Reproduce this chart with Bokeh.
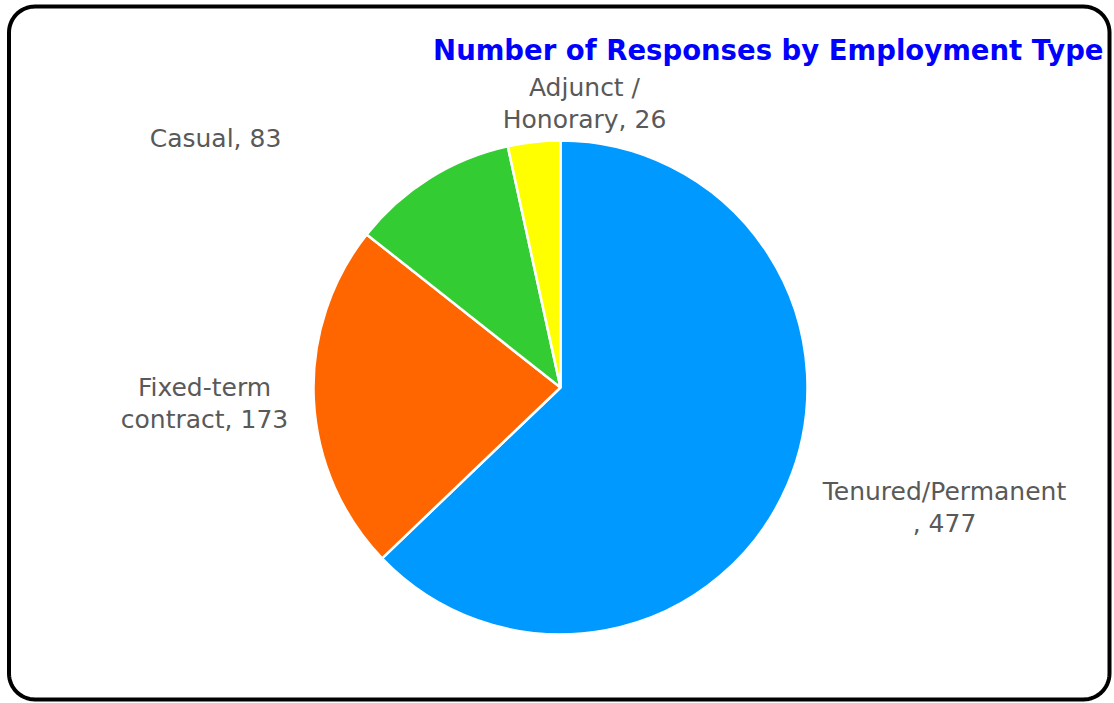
import numpy as np
from bokeh.plotting import figure
from bokeh.models import Range1d, ColumnDataSource
from bokeh.core.properties import value
from bokeh.embed import file_html
from bokeh.resources import INLINE

# ---- data ----
categories = ["Tenured/Permanent", "Fixed-term contract", "Casual", "Adjunct / Honorary"]
counts = [477, 173, 83, 26]
colors = ["#0099FF", "#FF6600", "#33CC33", "#FFFF00"]
label_lines = [["Tenured/Permanent", ", 477"],
               ["Fixed-term", "contract, 173"],
               ["Casual, 83"],
               ["Adjunct /", "Honorary, 26"]]
title_text = "Number of Responses by Employment Type"

W, H = 1112, 702

def dx(px):
    return px

def dy(py):
    return H - py

p = figure(width=W, height=H, output_backend="svg", toolbar_location=None,
           x_range=Range1d(0, W), y_range=Range1d(0, H), min_border=0)
p.axis.visible = False
p.grid.visible = False
p.outline_line_color = None
p.background_fill_color = "white"
p.border_fill_color = "white"

# rounded border
x0, x1, y0, y1, rad = dx(8.5), dx(1109), dy(699), dy(6), 26
pts_x, pts_y = [], []
for cx, cy, a0 in [(x1 - rad, y1 - rad, 0), (x0 + rad, y1 - rad, 90),
                   (x0 + rad, y0 + rad, 180), (x1 - rad, y0 + rad, 270)]:
    for a in np.linspace(a0, a0 + 90, 16):
        pts_x.append(cx + rad * np.cos(np.radians(a)))
        pts_y.append(cy + rad * np.sin(np.radians(a)))
pts_x.append(pts_x[0]); pts_y.append(pts_y[0])
p.line(pts_x, pts_y, line_color="black", line_width=4)

# pie
total = sum(counts)
fracs = np.array(counts) / total
cum = np.concatenate([[0], np.cumsum(fracs)])
start = np.pi / 2 - 2 * np.pi * cum[:-1]
end = np.pi / 2 - 2 * np.pi * cum[1:]
cx, cy, r = dx(560), dy(387), 247
src = ColumnDataSource(dict(start=start, end=end, color=colors))
p.wedge(x=cx, y=cy, radius=r, radius_units="screen", start_angle="start", end_angle="end",
        direction="clock", fill_color="color", line_color="white", line_width=2.5, source=src)

# labels
label_pos = [(944, 491), (204, 387), (215, 138), (584, 87)]
line_gap = 32
lx, ly, lt = [], [], []
for (px, py), lines in zip(label_pos, label_lines):
    for i, t in enumerate(lines):
        lx.append(dx(px)); ly.append(dy(py + i * line_gap)); lt.append(t)
p.text(x=lx, y=ly, text=lt, text_align="center", text_baseline="middle",
       text_color="#595959", text_font=value("DejaVu Sans"), text_font_size="25px")

# title
p.text(x=[dx(1103)], y=[dy(49)], text=[title_text], text_align="right", text_baseline="middle",
       text_color="#0000FF", text_font=value("DejaVu Sans"), text_font_style="bold",
       text_font_size="27.5px")

open("out.html", "w").write(file_html(p, INLINE))
